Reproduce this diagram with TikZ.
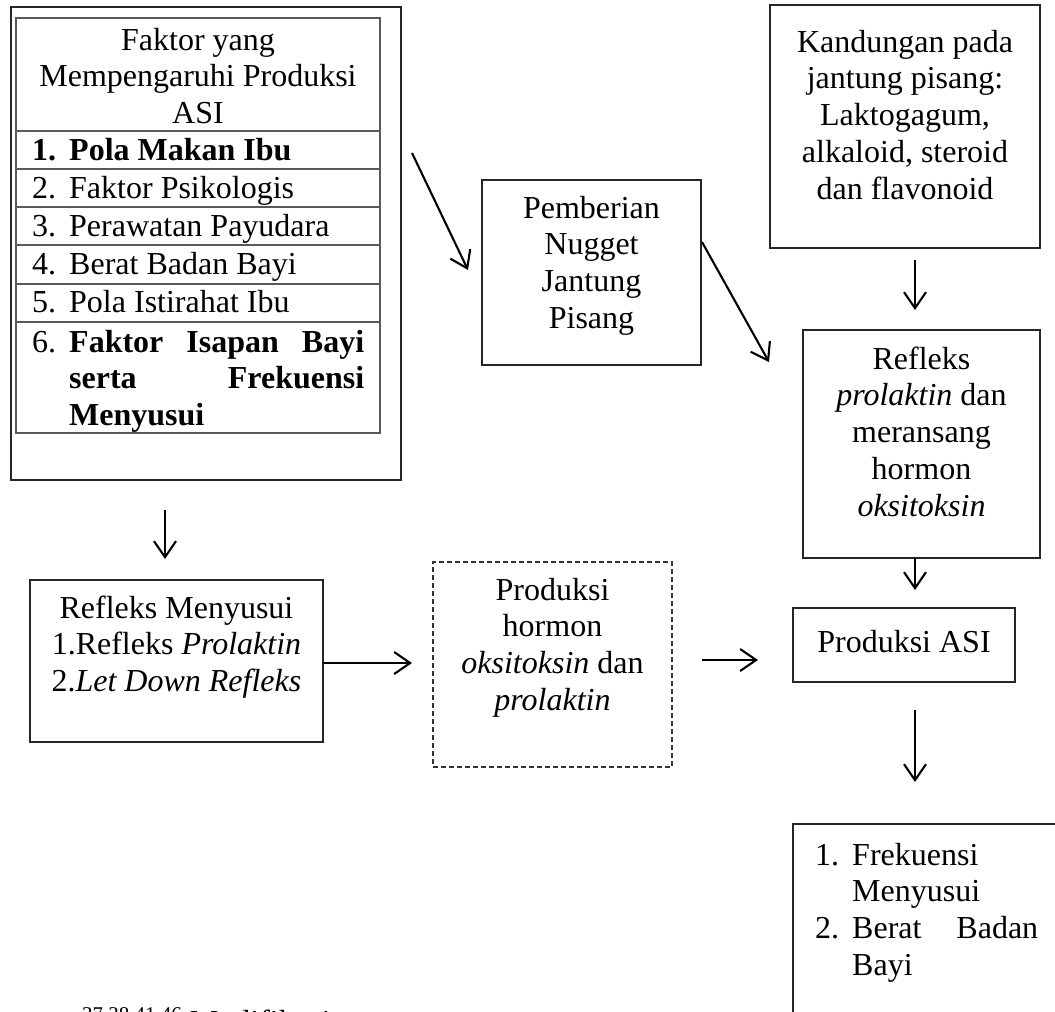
\documentclass[tikz,border=0pt]{standalone}
\usepackage{fontspec}
\setmainfont{Liberation Serif}
\usetikzlibrary{arrows.meta,calc}
\newcommand\fsz{\fontsize{32}{36.8}\selectfont}
\tikzset{
  box/.style={rectangle, draw=black!85, line width=1.3pt, inner sep=0pt, outer sep=0pt},
  tabline/.style={draw=black!65, line width=1.3pt},
  dashbox/.style={rectangle, draw=black!80, line width=1.2pt, dash pattern=on 5pt off 3pt, inner sep=0pt, outer sep=0pt},
  arr/.style={line width=2.1pt, -{Straight Barb[length=16pt,width=22pt,line width=2.1pt]}},
  txt/.style={inner sep=0pt, anchor=base, font=\fsz},
  ltxt/.style={inner sep=0pt, anchor=base west, font=\fsz},
}
\begin{document}
\begin{tikzpicture}[x=1pt,y=-1pt]
\useasboundingbox (0,0) rectangle (1055,1012);
\fill[white] (0,0) rectangle (1055,1012);
\clip (0,0) rectangle (1055,1012);

% ---------- boxes ----------
\node[box, minimum width=390pt, minimum height=473pt] (outer) at (206,243.5) {};
\node[box, draw=black!65, minimum width=364pt, minimum height=415pt] (tab) at (198,225.5) {};
\foreach \yy in {131,169,207,245,284,322}
  \draw[tabline] (tab.west |- 0,\yy) -- (tab.east |- 0,\yy);
\node[box, minimum width=219pt, minimum height=185pt] (pemb) at (591.5,272.5) {};
\node[box, minimum width=270pt, minimum height=243pt] (kand) at (905,126.5) {};
\node[box, minimum width=237pt, minimum height=228pt] (refl) at (921.5,444) {};
\node[box, minimum width=222pt, minimum height=74pt] (asi) at (904,645) {};
\node[box, minimum width=293pt, minimum height=162pt] (rmen) at (176.5,661) {};
\node[dashbox, minimum width=239pt, minimum height=205pt] (hormon) at (552.5,664.5) {};
\node[box, minimum width=267pt, minimum height=216pt] (bot) at (926.5,932) {};

% ---------- texts ----------
\node[txt] (th) at (198,50) {\parbox[t]{360pt}{\centering Faktor yang\\ Mempengaruhi Produksi\\ ASI}};
\node[ltxt] (n1) at (32,160) {\bfseries 1.};
\node[ltxt] (i1) at (69,160) {\bfseries Pola Makan Ibu};
\node[ltxt] (n2) at (32,198) {2.};
\node[ltxt] (i2) at (69,198) {Faktor Psikologis};
\node[ltxt] (n3) at (32,236) {3.};
\node[ltxt] (i3) at (69,236) {Perawatan Payudara};
\node[ltxt] (n4) at (32,274) {4.};
\node[ltxt] (i4) at (69,274) {Berat Badan Bayi};
\node[ltxt] (n5) at (32,312) {5.};
\node[ltxt] (i5) at (69,312) {Pola Istirahat Ibu};
\node[ltxt] (n6) at (32,352) {6.};
\node[ltxt] (i6) at (69,352) {\parbox[t]{295pt}{\bfseries\hbox to 295pt{Faktor\hfill Isapan\hfill Bayi}\hbox to 295pt{serta\hfill Frekuensi}\hbox{Menyusui}}};

\node[txt] (tp) at (591.5,218) {\parbox[t]{210pt}{\centering Pemberian\\ Nugget\\ Jantung\\ Pisang}};
\node[txt] (tk) at (905,52) {\parbox[t]{265pt}{\centering Kandungan pada\\ jantung pisang:\\ Laktogagum,\\ alkaloid, steroid\\ dan flavonoid}};
\node[txt] (tr) at (921.5,369) {\parbox[t]{232pt}{\centering Refleks\\ \textit{prolaktin} dan\\ meransang\\ hormon\\ \textit{oksitoksin}}};
\node[txt] (ta) at (904,652) {Produksi ASI};
\node[txt] (tm) at (176.5,618) {\parbox[t]{290pt}{\centering Refleks Menyusui\\ 1.Refleks \textit{Prolaktin}\\ 2.\textit{Let Down Refleks}}};
\node[txt] (tho) at (552.5,600) {\parbox[t]{235pt}{\centering Produksi\\ hormon\\ \textit{oksitoksin} dan\\ \textit{prolaktin}}};
\node[ltxt] (b1) at (815,865) {1.};
\node[ltxt] (b2) at (815,938) {2.};
\node[ltxt] (tb) at (852,865) {\parbox[t]{186pt}{\hbox{Frekuensi}\hbox{Menyusui}\hbox to 186pt{Berat\hfill Badan}\hbox{Bayi}}};

\node[ltxt] (src) at (82,1032) {\raisebox{11pt}{\fontsize{21}{21}\selectfont 37,38,41,46} Modifikasi};

% ---------- arrows ----------
\draw[arr] ($(outer.north east)+(11,146)$) -- ($(pemb.west)+(-14,-2.5)$);
\draw[arr] ($(pemb.east)+(1,-30.5)$) -- ($(refl.west)+(-34,-82)$);
\draw[arr] ($(kand.south)+(10,12)$) -- ($(refl.north)+(-6.5,-20)$);
\draw[arr] ($(refl.south)+(-6.5,0)$) -- ($(asi.north)+(11,-18)$);
\draw[arr] ($(asi.south)+(11,28)$) -- ($(bot.north)+(-11.5,-42)$);
\draw[arr] ($(outer.south)+(-41,30)$) -- ($(rmen.north)+(-11.5,-21)$);
\draw[arr] ($(rmen.east)+(0,2)$) -- ($(hormon.west)+(-21,-1.5)$);
\draw[arr] ($(hormon.east)+(30,-4.5)$) -- ($(asi.west)+(-35,15)$);
\end{tikzpicture}
\end{document}
